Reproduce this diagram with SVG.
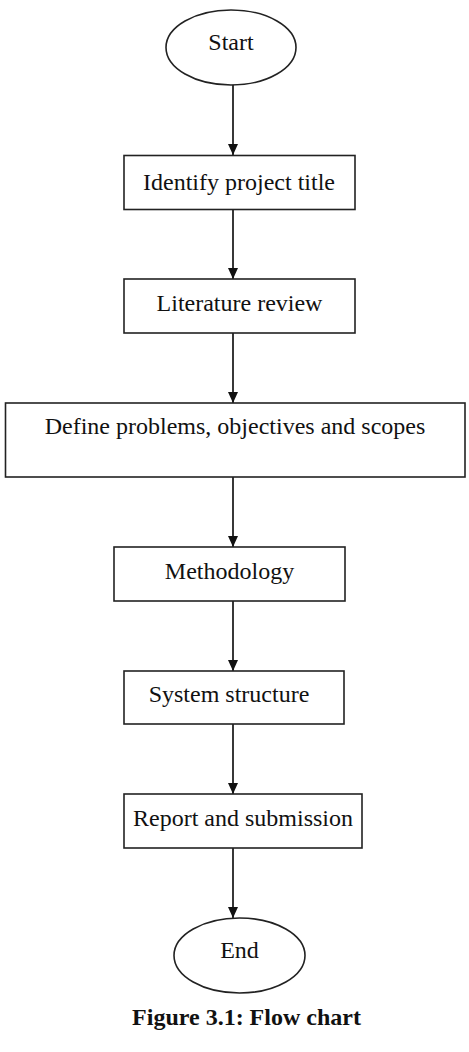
<svg xmlns="http://www.w3.org/2000/svg" width="469" height="1052" viewBox="0 0 469 1052">
<defs>
<style>
.n{fill:#fff;stroke:#222;stroke-width:1.6}
.t{font-family:"Liberation Serif","Times New Roman",serif;font-size:24px;fill:#111;text-anchor:middle}
.c{stroke:#222;stroke-width:1.8;fill:none;marker-end:url(#ah)}
</style>
<marker id="ah" markerWidth="11" markerHeight="10" refX="11" refY="5" orient="auto" markerUnits="userSpaceOnUse" viewBox="0 0 11 10">
<path d="M0,0 L11,5 L0,10 Z" fill="#111"/>
</marker>
</defs>
<rect width="469" height="1052" fill="#fff"/>
<g id="connectors">
<line class="c" x1="233" y1="85" x2="233" y2="155"/>
<line class="c" x1="233" y1="209" x2="233" y2="279"/>
<line class="c" x1="233" y1="333" x2="233" y2="403"/>
<line class="c" x1="233" y1="477" x2="233" y2="547"/>
<line class="c" x1="233" y1="601" x2="233" y2="671"/>
<line class="c" x1="233" y1="724" x2="233" y2="794"/>
<line class="c" x1="233" y1="848" x2="233" y2="918"/>
</g>
<g id="start"><ellipse class="n" cx="231" cy="47.5" rx="65" ry="37.5"/><text class="t" x="231" y="50">Start</text></g>
<g id="identify"><rect class="n" x="124" y="155.5" width="231" height="54"/><text class="t" x="239" y="190">Identify project title</text></g>
<g id="literature"><rect class="n" x="124" y="279" width="231" height="54"/><text class="t" x="239.5" y="311">Literature review</text></g>
<g id="define"><rect class="n" x="5.5" y="403" width="459.5" height="74"/><text class="t" x="235" y="434">Define problems, objectives and scopes</text></g>
<g id="methodology"><rect class="n" x="114" y="547" width="231" height="54"/><text class="t" x="229.5" y="579">Methodology</text></g>
<g id="system"><rect class="n" x="124" y="671" width="220" height="53"/><text class="t" x="229" y="702">System structure</text></g>
<g id="report"><rect class="n" x="124" y="794" width="238" height="54"/><text class="t" x="243" y="826">Report and submission</text></g>
<g id="end"><ellipse class="n" cx="239.5" cy="955.5" rx="65.5" ry="37.5"/><text class="t" x="239.5" y="958">End</text></g>
<text x="246.5" y="1025" style="font-family:'Liberation Serif','Times New Roman',serif;font-size:24px;font-weight:bold;fill:#111;text-anchor:middle">Figure 3.1: Flow chart</text>
</svg>
